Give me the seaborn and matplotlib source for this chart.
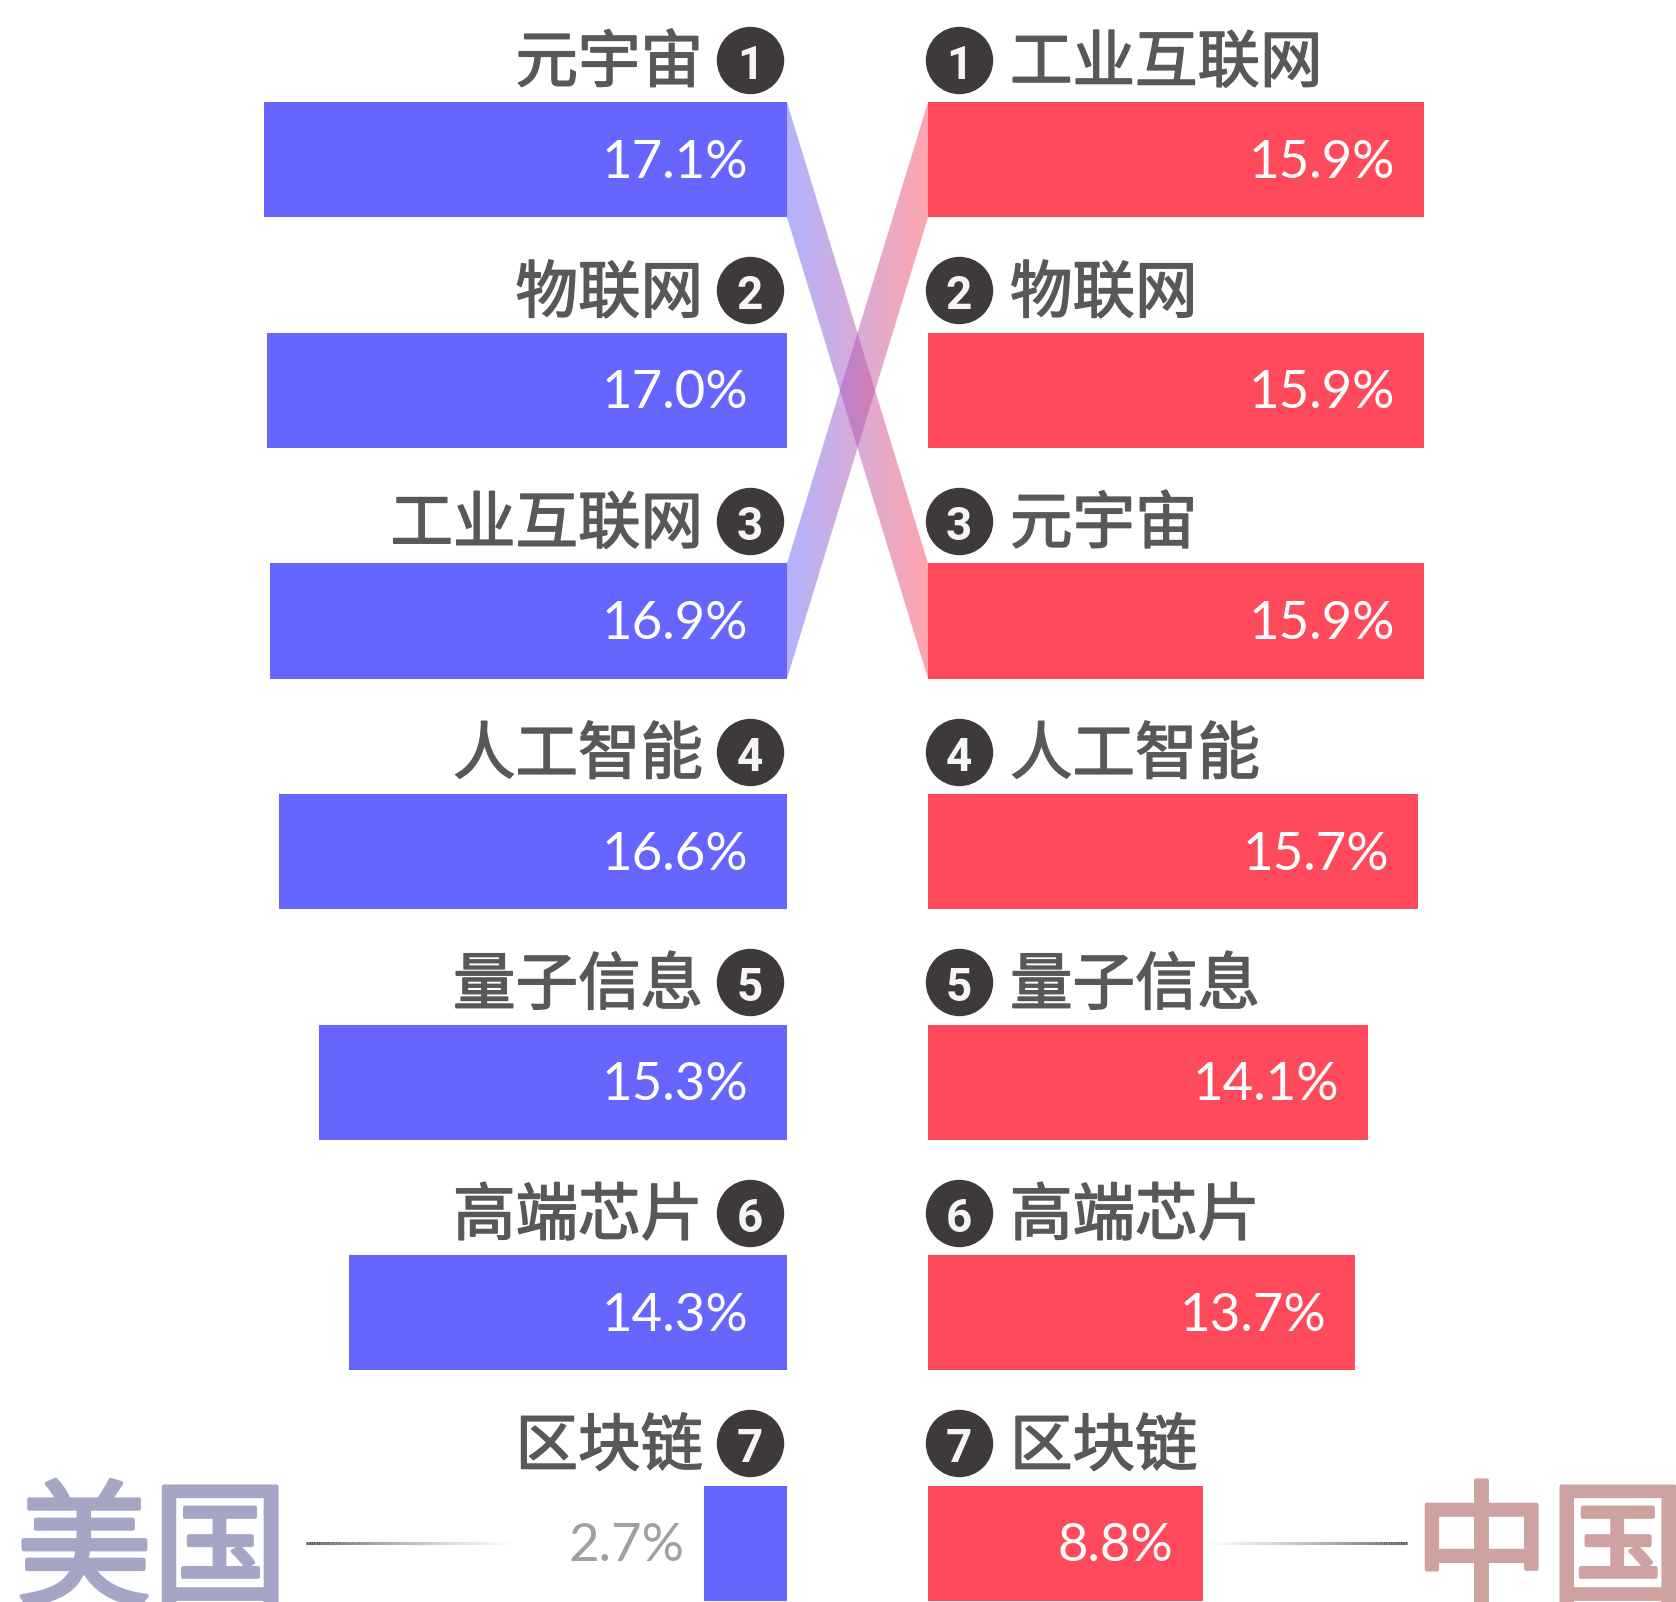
import numpy as np
import pandas as pd
import matplotlib
matplotlib.use("Agg")
import matplotlib.pyplot as plt
import matplotlib.patheffects as pe
import seaborn as sns
from matplotlib import transforms
from matplotlib.patches import Polygon
from matplotlib.collections import LineCollection
from matplotlib.colors import LinearSegmentedColormap, to_rgba

# ---------------- data ----------------
us_categories = ["元宇宙", "物联网", "工业互联网", "人工智能", "量子信息", "高端芯片", "区块链"]
us_values = [17.1, 17.0, 16.9, 16.6, 15.3, 14.3, 2.7]
cn_categories = ["工业互联网", "物联网", "元宇宙", "人工智能", "量子信息", "高端芯片", "区块链"]
cn_values = [15.9, 15.9, 15.9, 15.7, 14.1, 13.7, 8.8]
ranks = [1, 2, 3, 4, 5, 6, 7]
us_name = "美国"
cn_name = "中国"

# ---------------- style ----------------
US_COLOR = "#6666ff"
CN_COLOR = "#ff4a5c"
LABEL_COLOR = "#595757"
BADGE_COLOR = "#3e3a39"
US_NAME_COLOR = "#a5a6c5"
CN_NAME_COLOR = "#cfa2a2"

W, H, DPI = 1676, 1602, 100
sns.set_theme(style="white")
plt.rcParams['font.family'] = ['Noto Sans CJK SC', 'DejaVu Sans']
NUM_FONT = ['Lato', 'DejaVu Sans']
BADGE_FONT = ['Roboto', 'DejaVu Sans']

fig = plt.figure(figsize=(W / DPI, H / DPI), dpi=DPI)
fig.patch.set_facecolor("white")

US_X0 = 787      # pixel of zero for US side
CN_X0 = 928      # pixel of zero for China side
US_SCALE = 30.6  # px per percent
CN_SCALE = 31.2
YLIM = (6.254, -0.693)
BAR_H = 0.5

ax_us = fig.add_axes([0, 0, US_X0 / W, 1])
ax_cn = fig.add_axes([CN_X0 / W, 0, (W - CN_X0) / W, 1])
ax_mid = fig.add_axes([US_X0 / W, 0, (CN_X0 - US_X0) / W, 1])
ax_deco = fig.add_axes([0, 0, 1, 1], zorder=-1)

df_us = pd.DataFrame({"category": us_categories, "value": us_values})
df_cn = pd.DataFrame({"category": cn_categories, "value": cn_values})

sns.barplot(data=df_us, x="value", y="category", order=us_categories, orient="h",
            color=US_COLOR, saturation=1, width=BAR_H, linewidth=0, ax=ax_us)
sns.barplot(data=df_cn, x="value", y="category", order=cn_categories, orient="h",
            color=CN_COLOR, saturation=1, width=BAR_H, linewidth=0, ax=ax_cn)

ax_us.set_xlim(US_X0 / US_SCALE, 0)
ax_cn.set_xlim(0, (W - CN_X0) / CN_SCALE)
for ax in (ax_us, ax_cn, ax_mid):
    ax.set_ylim(*YLIM)
ax_mid.set_xlim(0, 1)
for ax in (ax_us, ax_cn, ax_mid, ax_deco):
    ax.axis("off")


def off(ax, dx, dy):
    return transforms.offset_copy(ax.transData, fig=fig, x=dx, y=dy, units="dots")


LABEL_FS = 45
VAL_FS = 38
BADGE_FS = 33
label_fx = [pe.withStroke(linewidth=1.1, foreground=LABEL_COLOR)]

# US side
for i, (cat, v, r) in enumerate(zip(us_categories, us_values, ranks)):
    ax_us.text(0, i, cat, transform=off(ax_us, -84, 96), ha="right", va="center",
               fontsize=LABEL_FS, color=LABEL_COLOR, path_effects=label_fx)
    ax_us.plot([0], [i], marker="o", markersize=66 * 72 / DPI, color=BADGE_COLOR,
               transform=off(ax_us, -37, 100), clip_on=False)
    ax_us.text(0, i, str(r), transform=off(ax_us, -37, 81), ha="center", va="baseline",
               fontsize=BADGE_FS, color="#f5f5f5", family=BADGE_FONT, fontweight="bold")
    label = f"{v:.1f}%"
    if v * US_SCALE > 200:
        ax_us.text(0, i, label, transform=off(ax_us, -39, -18), ha="right", va="baseline",
                   fontsize=VAL_FS, color="white", family=NUM_FONT)
    else:
        ax_us.text(v, i, label, transform=off(ax_us, -20, -18), ha="right", va="baseline",
                   fontsize=VAL_FS, color="#a0a0a0", family=NUM_FONT)

# China side
for i, (cat, v, r) in enumerate(zip(cn_categories, cn_values, ranks)):
    ax_cn.text(0, i, cat, transform=off(ax_cn, 82, 96), ha="left", va="center",
               fontsize=LABEL_FS, color=LABEL_COLOR, path_effects=label_fx)
    ax_cn.plot([0], [i], marker="o", markersize=66 * 72 / DPI, color=BADGE_COLOR,
               transform=off(ax_cn, 31, 100), clip_on=False)
    ax_cn.text(0, i, str(r), transform=off(ax_cn, 31, 81), ha="center", va="baseline",
               fontsize=BADGE_FS, color="#f5f5f5", family=BADGE_FONT, fontweight="bold")
    ax_cn.text(v, i, f"{v:.1f}%", transform=off(ax_cn, -29, -18), ha="right", va="baseline",
               fontsize=VAL_FS, color="white", family=NUM_FONT)

# Crossing ribbons for categories whose rank changes
cmap = LinearSegmentedColormap.from_list("ribbon", [US_COLOR, CN_COLOR])
grad = np.linspace(0, 1, 256)[None, :]
for i, cat in enumerate(us_categories):
    if cat in cn_categories:
        j = cn_categories.index(cat)
        if j != i:
            verts = [(0, i - BAR_H / 2), (0, i + BAR_H / 2),
                     (1, j + BAR_H / 2), (1, j - BAR_H / 2)]
            poly = Polygon(verts, closed=True, fc="none", ec="none", transform=ax_mid.transData)
            ax_mid.add_patch(poly)
            im = ax_mid.imshow(grad, cmap=cmap, aspect="auto", alpha=0.5,
                               extent=(0, 1, YLIM[0], YLIM[1]), interpolation="bilinear")
            im.set_clip_path(poly)
ax_mid.set_xlim(0, 1)
ax_mid.set_ylim(*YLIM)

# Country names and gradient rules
fig.text(16 / W, 1 - 1556 / H, us_name, ha="left", va="center", fontsize=98,
         color=US_NAME_COLOR,
         path_effects=[pe.withStroke(linewidth=3, foreground=US_NAME_COLOR)])
fig.text(1 + 10 / W, 1 - 1556 / H, cn_name, ha="right", va="center", fontsize=98,
         color=CN_NAME_COLOR,
         path_effects=[pe.withStroke(linewidth=3, foreground=CN_NAME_COLOR)])

ax_deco.set_xlim(0, W)
ax_deco.set_ylim(H, 0)


def grad_line(x0, x1, y, c0, c1, n=120):
    xs = np.linspace(x0, x1, n + 1)
    segs = [[(xs[k], y), (xs[k + 1], y)] for k in range(n)]
    a = np.array(to_rgba(c0))
    b = np.array(to_rgba(c1))
    cols = [a + (b - a) * t for t in np.linspace(0, 1, n)]
    ax_deco.add_collection(LineCollection(segs, colors=cols, linewidths=2.2))


grad_line(306, 514, 1543, (0.33, 0.33, 0.33, 1.0), (0.6, 0.6, 0.6, 0.0))
grad_line(1205, 1407, 1543, (0.6, 0.6, 0.6, 0.0), (0.33, 0.33, 0.33, 1.0))

fig.savefig("out.png", dpi=DPI, facecolor="white")
